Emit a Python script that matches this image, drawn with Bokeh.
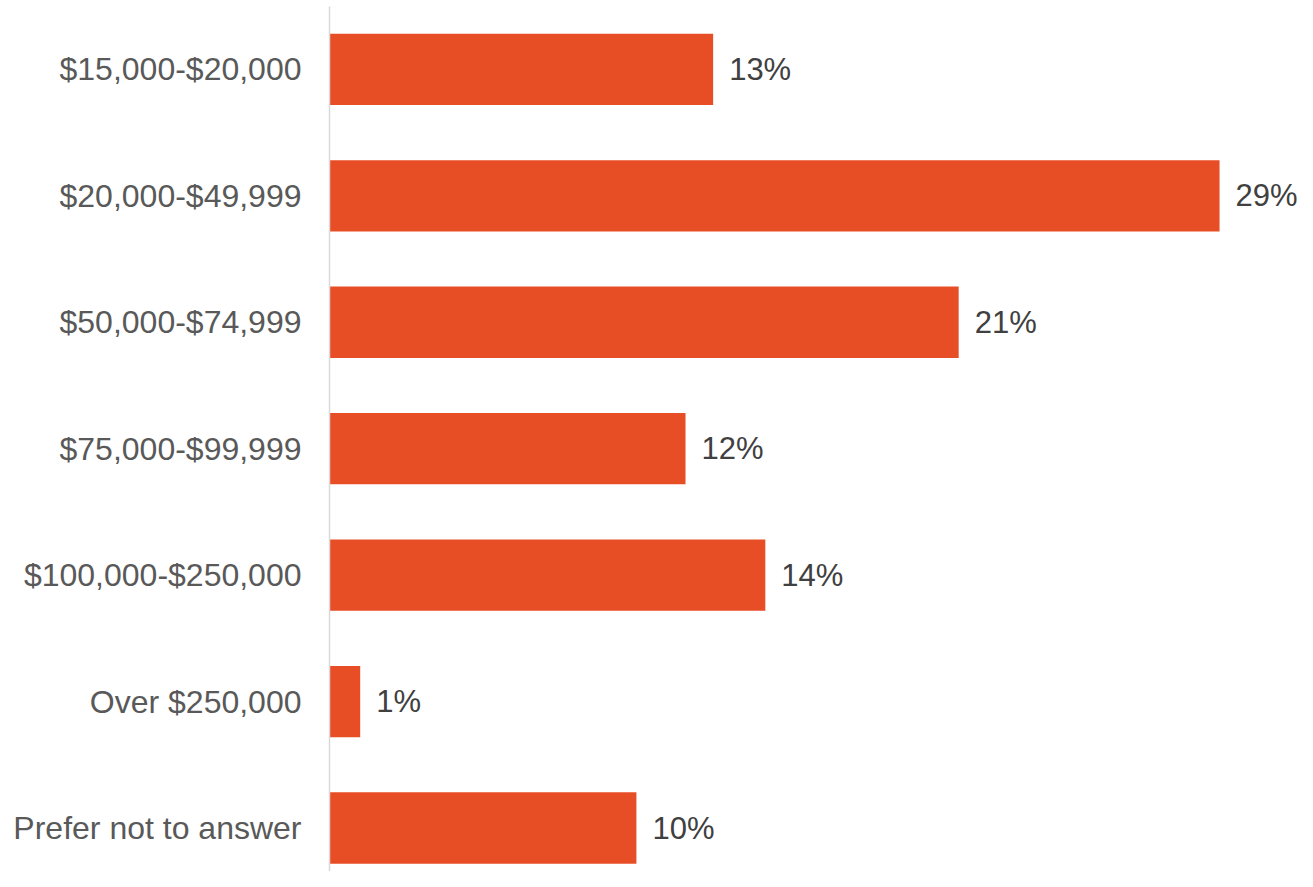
from bokeh.plotting import figure
from bokeh.models import ColumnDataSource, Range1d, FixedTicker
from bokeh.embed import file_html
from bokeh.resources import INLINE
from bokeh.core.properties import value

categories = ["$15,000-$20,000", "$20,000-$49,999", "$50,000-$74,999",
              "$75,000-$99,999", "$100,000-$250,000", "Over $250,000",
              "Prefer not to answer"]
shares = [12.5, 29.0, 20.5, 11.6, 14.2, 1.0, 10.0]
labels = ["13%", "29%", "21%", "12%", "14%", "1%", "10%"]

# category slots, top to bottom
pos = [len(categories) - 1 - i for i in range(len(categories))]

src = ColumnDataSource(dict(pos=pos, cat=categories, val=shares, lab=labels))

p = figure(width=1297, height=871,
           y_range=Range1d(-0.344, 6.497),
           x_range=Range1d(0, 31.54),
           output_backend="svg", toolbar_location=None,
           min_border_left=329, min_border_top=6, min_border_bottom=0,
           min_border_right=0)

p.hbar(y="pos", left=0, right="val", height=0.564, source=src,
       fill_color="#E84E25", line_color=None)
p.text(x="val", y="pos", text="lab", source=src, x_offset=16,
       text_baseline="middle", text_align="left",
       text_font=value("Liberation Sans"), text_font_size="31px",
       text_color="#404040")

p.xaxis.visible = False
p.xgrid.visible = False
p.ygrid.visible = False
p.outline_line_color = None

ax = p.yaxis[0]
ax.ticker = FixedTicker(ticks=pos)
ax.major_label_overrides = {k: c for k, c in zip(pos, categories)}
ax.axis_line_color = "#d9d9d9"
ax.axis_line_width = 1.5
ax.major_tick_line_color = None
ax.minor_tick_line_color = None
ax.major_tick_out = 0
ax.major_tick_in = 0
ax.major_label_standoff = 28
ax.major_label_text_font = "Liberation Sans"
ax.major_label_text_font_size = "32px"
ax.major_label_text_color = "#595959"

open("out.html", "w").write(file_html(p, INLINE))
